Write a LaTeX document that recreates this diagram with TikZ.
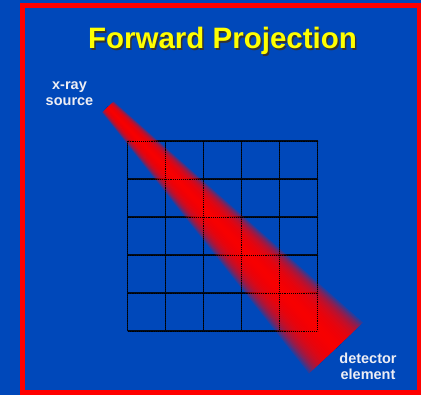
\documentclass[tikz,border=0pt]{standalone}
\usepackage{fontspec}
\setmainfont{Liberation Sans}
\usetikzlibrary{calc}
\definecolor{slideBlue}{HTML}{0048BA}
\definecolor{beamRed}{HTML}{FF0000}
\definecolor{titleYellow}{HTML}{FFFF00}
\definecolor{labelWhite}{HTML}{EEEEF4}

\begin{document}
\begin{tikzpicture}[x=1pt,y=-1pt,
  label text/.style={font=\fontsize{14.5}{16}\selectfont\bfseries,text=labelWhite,align=center,inner sep=0pt},
  grid line/.style={draw=black!85!slideBlue,line width=1.1pt},
  title text/.style={font=\fontsize{29.5}{32}\selectfont\bfseries,inner sep=0pt,anchor=base}]
% slide background and frame
\fill[slideBlue] (0,0) rectangle (421,395);
\useasboundingbox (0,0) rectangle (421,395);
\draw[beamRed,line width=5pt] (22.5,6) rectangle (419,392.5);
% title
\node[title text,text=black!80] (title-shadow) at (224,50.5) {Forward Projection};
\node[title text,text=titleYellow] (title) at (222.5,49) {Forward Projection};
% image grid (below the beam)
\foreach \i in {0,...,5}{
  \draw[grid line] (127.7+38*\i,141) -- (127.7+38*\i,331);
  \draw[grid line] (127.7,141+38*\i) -- (317.7,141+38*\i);
}
% x-ray beam
\coordinate (src) at (108,107);
\coordinate (det) at (336,348);
\foreach \k in {0,...,19}{
  \pgfmathsetmacro\ws{8*(1-\k/20)}
  \pgfmathsetmacro\wd{37*(1-\k/20)}
  \fill[beamRed,opacity=0.18] ($(src)!\ws pt!90:(det)$) -- ($(det)!\wd pt!-90:(src)$)
    -- ($(det)!\wd pt!90:(src)$) -- ($(src)!\ws pt!-90:(det)$) -- cycle;
}
% grid seen through the beam
\foreach \i in {0,...,5}{
  \draw[black,line width=0.9pt,densely dotted] (127.7+38*\i,141) -- (127.7+38*\i,331);
  \draw[black,line width=0.9pt,densely dotted] (127.7,141+38*\i) -- (317.7,141+38*\i);
}
% labels
\node[label text] (src-label) at (69.5,94) {x-ray\\source};
\node[label text] (det-label) at (368,366) {detector\\element};
\end{tikzpicture}
\end{document}
